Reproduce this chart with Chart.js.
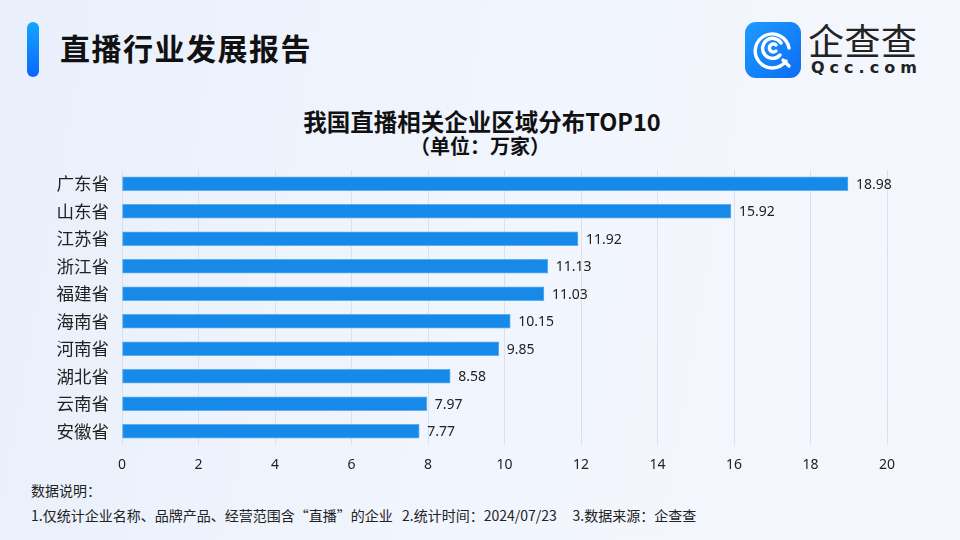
<!DOCTYPE html>
<html>
<head>
<meta charset="utf-8">
<script src="https://cdn.jsdelivr.net/npm/chart.js@4"></script>
<style>
  html, body { margin: 0; padding: 0; }
  body {
    width: 960px; height: 540px; overflow: hidden; position: relative;
    background: linear-gradient(100deg, #e9f0fb 0%, #f1f5fd 50%, #f5f7fd 100%);
    font-family: "Noto Sans CJK SC", "Noto Sans", sans-serif;
  }
  .bar-mark {
    position: absolute; left: 27px; top: 22px; width: 12px; height: 55px; border-radius: 6px;
    background: linear-gradient(180deg, #12a6ff, #0a66ff);
  }
  .head {
    position: absolute; left: 60px; top: 26px; font-size: 30px; font-weight: 700; color: #111;
    letter-spacing: 1.5px; line-height: 42px;
  }
  .logo { position: absolute; left: 745px; top: 22px; }
  .brand {
    position: absolute; left: 808px; top: 16px; font-size: 36px; color: #222; line-height: 46px;
    font-weight: 400; letter-spacing: 0.5px;
  }
  .brand-sub {
    position: absolute; left: 811px; top: 58px; font-size: 16px; color: #222; letter-spacing: 5px;
    font-family: "DejaVu Sans", sans-serif; font-weight: 600; line-height: 20px;
  }
  .title {
    position: absolute; left: 0; width: 964px; text-align: center; top: 105px; font-size: 23.5px;
    font-weight: 700; color: #111; line-height: 32px;
  }
  .subtitle {
    position: absolute; left: 0; width: 960px; text-align: center; top: 132px; font-size: 20px;
    font-weight: 700; color: #111; line-height: 28px;
  }
  #wrap { position: absolute; left: 0; top: 160px; width: 960px; height: 320px; }
  .note { position: absolute; left: 31px; font-size: 14px; color: #222; line-height: 20px; white-space: pre; }
</style>
</head>
<body>
<div class="bar-mark"></div>
<div class="head">直播行业发展报告</div>
<svg class="logo" width="56" height="56" viewBox="0 0 56 56">
  <defs>
    <linearGradient id="lg" x1="0" y1="0" x2="1" y2="1">
      <stop offset="0" stop-color="#1f9bff"/>
      <stop offset="1" stop-color="#0b6df5"/>
    </linearGradient>
  </defs>
  <rect x="0" y="0" width="56" height="56" rx="11" fill="url(#lg)"/>
  <g fill="none" stroke="#fff" stroke-width="3.4" stroke-linecap="round">
    <path d="M41 39 A17 17 0 1 1 44 26"/>
    <path d="M35 33 A10 10 0 1 1 36 21"/>
    <path d="M31 29 A4 4 0 1 1 31 23"/>
    <path d="M38 38 L44 44"/>
  </g>
</svg>
<div class="brand">企查查</div>
<div class="brand-sub">Qcc.com</div>
<div class="title">我国直播相关企业区域分布TOP10</div>
<div class="subtitle">（单位：万家）</div>
<div id="wrap"><canvas id="c"></canvas></div>
<div class="note" style="top:480px;">数据说明：</div>
<div class="note" style="top:505px;">1.仅统计企业名称、品牌产品、经营范围含“直播”的企业   2.统计时间：2024/07/23     3.数据来源：企查查</div>
<script>
var PROVINCES = ['广东省', '山东省', '江苏省', '浙江省', '福建省', '海南省', '河南省', '湖北省', '云南省', '安徽省'];
var COUNTS = [18.98, 15.92, 11.92, 11.13, 11.03, 10.15, 9.85, 8.58, 7.97, 7.77];
var X_TICKS = [0, 2, 4, 6, 8, 10, 12, 14, 16, 18, 20];

var valueLabels = {
  id: 'valueLabels',
  afterDatasetsDraw: function(chart) {
    var ctx = chart.ctx;
    var meta = chart.getDatasetMeta(0);
    ctx.save();
    ctx.font = '14px "Noto Sans", sans-serif';
    ctx.fillStyle = '#222';
    ctx.textBaseline = 'middle';
    ctx.textAlign = 'left';
    meta.data.forEach(function(bar, i) {
      ctx.fillText(COUNTS[i].toFixed(2), bar.x + 8, bar.y + 1);
    });
    ctx.restore();
  }
};

new Chart(document.getElementById('c'), {
  type: 'bar',
  data: {
    labels: PROVINCES,
    datasets: [{
      data: COUNTS,
      backgroundColor: '#1689e9',
      borderColor: '#5aaef2',
      borderWidth: 1,
      borderSkipped: false,
      barThickness: 14
    }]
  },
  options: {
    indexAxis: 'y',
    responsive: true,
    maintainAspectRatio: false,
    animation: false,
    layout: { padding: { left: 40, right: 73, top: 10, bottom: 0 } },
    plugins: { legend: { display: false }, tooltip: { enabled: false } },
    scales: {
      x: {
        min: 0, max: 20,
        afterBuildTicks: function(s) { s.ticks = X_TICKS.map(function(v) { return { value: v }; }); },
        afterFit: function(s) { s.height = 35; },
        grid: { color: '#dbe1ea', drawTicks: false },
        border: { display: false },
        ticks: { padding: 12, color: '#222', font: { size: 14, family: '"Noto Sans", sans-serif' } }
      },
      y: {
        afterFit: function(s) { s.width = 82; s.paddingTop = 0; s.paddingBottom = 0; },
        grid: { display: false },
        border: { display: false },
        ticks: { padding: 5, color: '#222', font: { size: 17.5, family: '"Noto Sans CJK SC", sans-serif' } }
      }
    }
  },
  plugins: [valueLabels]
});
</script>
</body>
</html>
